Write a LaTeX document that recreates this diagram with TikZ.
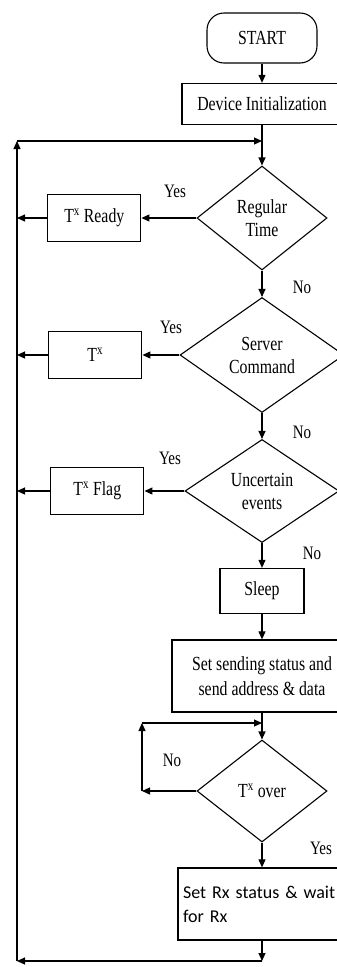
\documentclass[tikz,border=0pt]{standalone}
\usepackage{fontspec}
\setmainfont{Liberation Serif}[FakeStretch=0.79]
\newfontfamily\rxfont{Carlito}
\usetikzlibrary{arrows.meta,shapes.geometric,positioning}
\tikzset{
    %Define standard arrow tip
    >={Triangle[length=8pt,width=7pt]},
    %Define style for start box
    terminal/.style={
           rectangle,
           rounded corners=17pt,
           draw=black, line width=1.1pt,
           minimum width=110pt,
           minimum height=50pt,
           font=\fontsize{20}{22}\selectfont,
           text centered},
    %Define style for boxes
    process/.style={
           rectangle,
           draw=black, line width=1.3pt,
           font=\fontsize{20}{25}\selectfont,
           align=center,
           inner sep=3pt},
    sidebox/.style={
           process,
           minimum width=93pt,
           minimum height=47pt},
    %Define style for decisions
    decision/.style={
           diamond,
           draw=black, line width=1.1pt,
           inner sep=0pt,
           font=\fontsize{20}{23}\selectfont,
           align=center},
    answer/.style={
           font=\fontsize{19}{20}\selectfont}
}

\begin{document}
\begin{tikzpicture}[x=1pt,y=-1pt,line width=1.1pt]
\useasboundingbox (0,0) rectangle (337,967);
 %nodes
\node[terminal](start) at (262,38){START};
\node[process, minimum width=160pt, minimum height=41pt](init) at (262,104){Device Initialization};
\node[decision, minimum width=130pt, minimum height=104pt](regular) at (262,218){Regular\\Time};
\node[decision, minimum width=164pt, minimum height=115pt](server) at (262,355){Server\\Command};
\node[decision, minimum width=154pt, minimum height=103pt](uncertain) at (262,491){Uncertain\\events};
\node[process, minimum width=84pt, minimum height=45pt](sleep) at (262,591){Sleep};
\node[process, minimum width=180pt, minimum height=72pt](send) at (262,676){Set sending status and\\send address \& data};
\node[decision, minimum width=130pt, minimum height=102pt](txover) at (262,791){T\textsuperscript{x} over};
\node[process, minimum height=72pt, text width=158pt, align=left, inner sep=5pt,
      font=\rxfont\fontsize{18}{24}\selectfont](rx) at (262,904){Set Rx status \& wait\\for Rx};
\node[sidebox, left=55pt of regular](ready){T\textsuperscript{x} Ready};
\node[sidebox, left=37pt of server](tx){T\textsuperscript{x}};
\node[sidebox, left=40pt of uncertain](flag){T\textsuperscript{x} Flag};
 %labels
\node[answer](yes1) at (175,191){Yes};
\node[answer](no1) at (302,287){No};
\node[answer](yes2) at (171,327){Yes};
\node[answer](no2) at (302,432){No};
\node[answer](yes3) at (170,458){Yes};
\node[answer](no3) at (312,553){No};
\node[answer](no4) at (172,760){No};
\node[answer](yes4) at (321,848){Yes};
 %corners
\coordinate (loopin) at (262,141);
\coordinate (loopul) at (17,141);
\coordinate (loopll) at (17,961);
\coordinate (loopout) at (262,961);
\coordinate (noin) at (262,723);
\coordinate (noup) at (142,723);
\coordinate (nocorner) at (txover.west -| noup);
 %edges
\draw[->] (start) -- (init);
\draw (init) -- (loopin);
\draw[->] (loopin) -- (regular);
\draw[->] (regular) -- (server);
\draw[->] (server) -- (uncertain);
\draw[->] (uncertain) -- (sleep);
\draw[->] (sleep) -- (send);
\draw (send) -- (noin);
\draw[->] (noin) -- (txover);
\draw[->] (txover) -- (rx);
\draw[->] (regular.west) -- (ready.east);
\draw[->] (server.west) -- (tx.east);
\draw[->] (uncertain.west) -- (flag.east);
\draw[->] (ready.west) -- (ready.west -| loopul);
\draw[->] (tx.west) -- (tx.west -| loopul);
\draw[->] (flag.west) -- (flag.west -| loopul);
\draw[->] (txover.west) -- (nocorner);
\draw[->] (nocorner) -- (noup);
\draw[->] (noup) -- (noin);
\draw[->] (rx) -- (loopout);
\draw[->] (loopout) -- (loopll);
\draw[->] (loopll) -- (loopul);
\draw[->] (loopul) -- (loopin);
\end{tikzpicture}
\end{document}
